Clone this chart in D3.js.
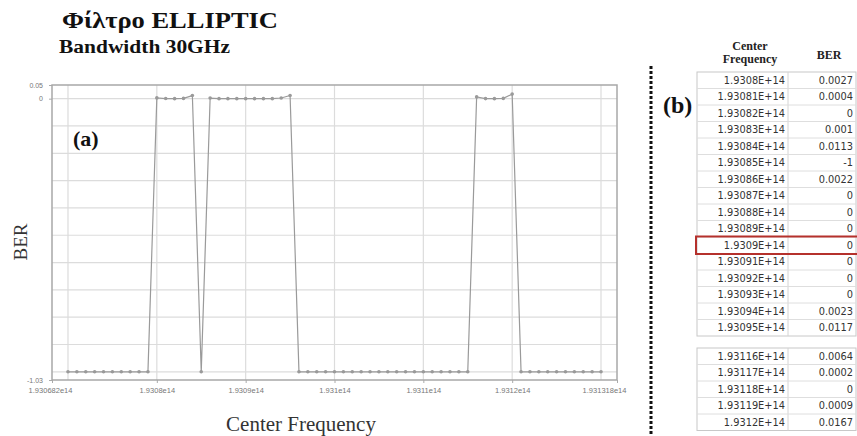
<!DOCTYPE html>
<html><head><meta charset="utf-8">
<script src="https://cdn.jsdelivr.net/npm/d3@7"></script>
<style>body{margin:0;background:#fff;}svg{display:block;}</style>
</head><body>
<svg id="c" width="857" height="436"></svg>
<script>
// ---- data ----
const freqs = [
  1.93070e14,1.93071e14,1.93072e14,1.93073e14,1.93074e14,1.93075e14,1.93076e14,1.93077e14,1.93078e14,1.93079e14,
  1.93080e14,1.93081e14,1.93082e14,1.93083e14,1.93084e14,1.93085e14,1.93086e14,1.93087e14,1.93088e14,1.93089e14,
  1.93090e14,1.93091e14,1.93092e14,1.93093e14,1.93094e14,1.93095e14,1.93096e14,1.93097e14,1.93098e14,1.93099e14,
  1.93100e14,1.93101e14,1.93102e14,1.93103e14,1.93104e14,1.93105e14,1.93106e14,1.93107e14,1.93108e14,1.93109e14,
  1.93110e14,1.93111e14,1.93112e14,1.93113e14,1.93114e14,1.93115e14,1.93116e14,1.93117e14,1.93118e14,1.93119e14,
  1.93120e14,1.93121e14,1.93122e14,1.93123e14,1.93124e14,1.93125e14,1.93126e14,1.93127e14,1.93128e14,1.93129e14,
  1.93130e14
];
const ber = [
  -1,-1,-1,-1,-1,-1,-1,-1,-1,-1,
  0.0027,0.0004,0,0.001,0.0113,-1,0.0022,0,0,0,
  0,0,0,0,0.0023,0.0117,-1,-1,-1,-1,
  -1,-1,-1,-1,-1,-1,-1,-1,-1,-1,
  -1,-1,-1,-1,-1,-1,0.0064,0.0002,0,0.0009,
  0.0167,-1,-1,-1,-1,-1,-1,-1,-1,-1,
  -1
];
const xDomain = [1.930682e14, 1.931318e14];
const yDomain = [-1.03, 0.05];
const xTickValues = [1.930682e14, 1.9308e14, 1.9309e14, 1.931e14, 1.9311e14, 1.9312e14, 1.931318e14];
const xTickLabels = ["1.930682e14","1.9308e14","1.9309e14","1.931e14","1.9311e14","1.9312e14","1.931318e14"];
const xGridValues = [1.9307e14, 1.9308e14, 1.9309e14, 1.931e14, 1.9311e14, 1.9312e14, 1.9313e14];
const yTickValues = [0.05, 0, -1.03];
const yTickLabels = ["0.05", "0", "-1.03"];
const yGridValues = [0,-0.1,-0.2,-0.3,-0.4,-0.5,-0.6,-0.7,-0.8,-0.9,-1.0];

const table1Freq = ["1.9308E+14","1.93081E+14","1.93082E+14","1.93083E+14","1.93084E+14","1.93085E+14","1.93086E+14","1.93087E+14","1.93088E+14","1.93089E+14","1.9309E+14","1.93091E+14","1.93092E+14","1.93093E+14","1.93094E+14","1.93095E+14"];
const table1Ber = ["0.0027","0.0004","0","0.001","0.0113","-1","0.0022","0","0","0","0","0","0","0","0.0023","0.0117"];
const table2Freq = ["1.93116E+14","1.93117E+14","1.93118E+14","1.93119E+14","1.9312E+14"];
const table2Ber = ["0.0064","0.0002","0","0.0009","0.0167"];
const highlightRow = 10;

// ---- chart ----
const svg = d3.select("#c");
const L = 52, R = 617, T = 85, B = 380;
const x = d3.scaleLinear().domain(xDomain).range([L, R]);
const y = d3.scaleLinear().domain(yDomain).range([B, T]);

// title
svg.append("text").attr("x", 62).attr("y", 28).attr("font-family", "Liberation Serif, serif")
  .attr("font-weight", "bold").attr("font-size", 24).attr("fill", "#111")
  .attr("textLength", 216).attr("lengthAdjust", "spacingAndGlyphs").text("Φίλτρο ELLIPTIC");
svg.append("text").attr("x", 59).attr("y", 53).attr("font-family", "Liberation Serif, serif")
  .attr("font-weight", "bold").attr("font-size", 19).attr("fill", "#111")
  .attr("textLength", 171).attr("lengthAdjust", "spacingAndGlyphs").text("Bandwidth 30GHz");

// grid
const g = svg.append("g");
g.selectAll(".hg").data(yGridValues).enter().append("line")
  .attr("x1", L).attr("x2", R).attr("y1", d => y(d)).attr("y2", d => y(d))
  .attr("stroke", "#dcdcdc").attr("stroke-width", 1.2);
g.selectAll(".vg").data(xGridValues).enter().append("line")
  .attr("y1", T).attr("y2", B).attr("x1", d => x(d)).attr("x2", d => x(d))
  .attr("stroke", "#dcdcdc").attr("stroke-width", 1.2);

// axes
const xAxis = d3.axisBottom(x).tickValues(xTickValues).tickSize(3)
  .tickFormat((d, i) => xTickLabels[i]);
const xg = svg.append("g").attr("transform", `translate(0,${B})`).call(xAxis);
xg.select(".domain").remove();
xg.selectAll("line").attr("stroke", "#aaa");
xg.selectAll("text").attr("font-family", "Liberation Sans, Arial, sans-serif").attr("font-size", 7.5)
  .attr("fill", "#777").attr("dy", "0.9em");
xg.selectAll(".tick").filter((d, i) => i === 0).select("text").attr("dx", -2);
xg.selectAll(".tick").filter((d, i) => i === xTickValues.length - 1).select("text").attr("dx", -13);

const yAxis = d3.axisLeft(y).tickValues(yTickValues).tickSize(3)
  .tickFormat((d, i) => yTickLabels[i]);
const yg = svg.append("g").attr("transform", `translate(${L},0)`).call(yAxis);
yg.select(".domain").remove();
yg.selectAll("line").attr("stroke", "#aaa");
yg.selectAll("text").attr("font-family", "Liberation Sans, Arial, sans-serif").attr("font-size", 7)
  .attr("fill", "#777").attr("dx", -3);

// border
svg.append("rect").attr("x", L).attr("y", T).attr("width", R - L).attr("height", B - T)
  .attr("fill", "none").attr("stroke", "#a8a8a8").attr("stroke-width", 1.5);

// line + points
const pts = freqs.map((f, i) => [f, ber[i]]);
svg.append("path").datum(pts)
  .attr("d", d3.line().x(d => x(d[0])).y(d => y(d[1])))
  .attr("fill", "none").attr("stroke", "#9a9a9a").attr("stroke-width", 1.2);
svg.selectAll(".pt").data(pts).enter().append("circle")
  .attr("cx", d => x(d[0])).attr("cy", d => y(d[1])).attr("r", 1.8)
  .attr("fill", "#9a9a9a");

// labels
svg.append("text").attr("x", 73).attr("y", 146).attr("font-family", "Liberation Serif, serif")
  .attr("font-weight", "bold").attr("font-size", 22).attr("fill", "#111").text("(a)");
svg.append("text").attr("transform", "translate(27,242) rotate(-90)").attr("text-anchor", "middle")
  .attr("font-family", "Liberation Serif, serif").attr("font-size", 19).attr("fill", "#333").text("BER");
svg.append("text").attr("x", 301).attr("y", 431).attr("text-anchor", "middle")
  .attr("font-family", "Liberation Serif, serif").attr("font-size", 21).attr("fill", "#333").text("Center Frequency");

// dotted separator
svg.append("line").attr("x1", 651).attr("x2", 651).attr("y1", 66).attr("y2", 436)
  .attr("stroke", "#111").attr("stroke-width", 3).attr("stroke-dasharray", "3,2");

svg.append("text").attr("x", 663).attr("y", 113).attr("font-family", "Liberation Serif, serif")
  .attr("font-weight", "bold").attr("font-size", 24).attr("fill", "#111").text("(b)");

// table
const TL = 697, TM = 788, TR = 856, RH = 16.5;
const hdr = svg.append("g").attr("font-family", "Liberation Serif, serif").attr("font-weight", "bold")
  .attr("font-size", 12).attr("fill", "#222").attr("text-anchor", "middle");
hdr.append("text").attr("x", 750).attr("y", 50).text("Center");
hdr.append("text").attr("x", 750).attr("y", 63).text("Frequency");
hdr.append("text").attr("x", 829).attr("y", 59).text("BER");

function drawTable(freqArr, berArr, top, hl) {
  const tg = svg.append("g");
  const n = freqArr.length;
  tg.append("rect").attr("x", TL).attr("y", top).attr("width", TR - TL).attr("height", n * RH)
    .attr("fill", "none").attr("stroke", "#c8c8c8");
  tg.append("line").attr("x1", TM).attr("x2", TM).attr("y1", top).attr("y2", top + n * RH).attr("stroke", "#d4d4d4");
  for (let i = 1; i < n; i++) {
    tg.append("line").attr("x1", TL).attr("x2", TR).attr("y1", top + i * RH).attr("y2", top + i * RH)
      .attr("stroke", "#dedede");
  }
  tg.selectAll(".f").data(freqArr).enter().append("text")
    .attr("x", TM - 3).attr("y", (d, i) => top + i * RH + RH / 2 + 3.5).attr("text-anchor", "end")
    .attr("font-family", "DejaVu Sans, sans-serif").attr("font-size", 9.8).attr("fill", "#333").text(d => d);
  tg.selectAll(".b").data(berArr).enter().append("text")
    .attr("x", TR - 3).attr("y", (d, i) => top + i * RH + RH / 2 + 3.5).attr("text-anchor", "end")
    .attr("font-family", "DejaVu Sans, sans-serif").attr("font-size", 9.8).attr("fill", "#333").text(d => d);
  if (hl != null) {
    tg.append("rect").attr("x", TL - 1).attr("y", top + hl * RH - 0.5).attr("width", TR - TL + 4).attr("height", RH + 1)
      .attr("fill", "none").attr("stroke", "#b5312c").attr("stroke-width", 2);
  }
}
drawTable(table1Freq, table1Ber, 72, highlightRow);
drawTable(table2Freq, table2Ber, 348, null);
</script>
</body></html>
